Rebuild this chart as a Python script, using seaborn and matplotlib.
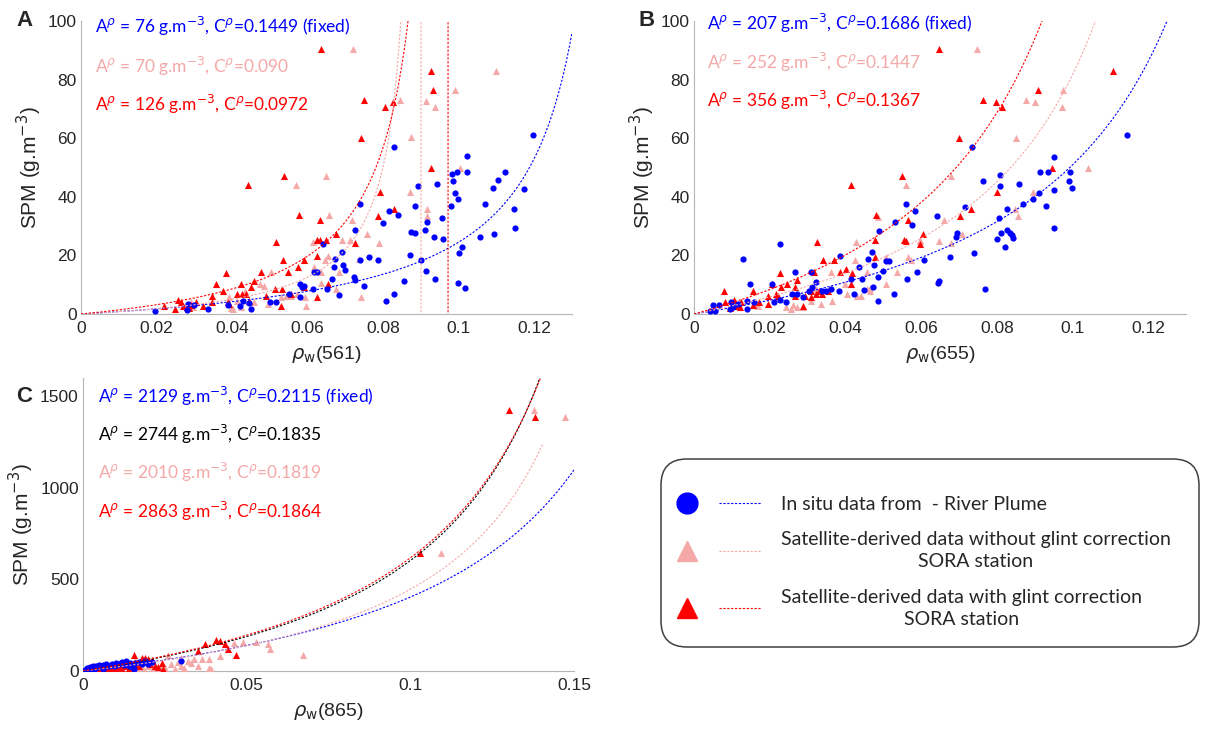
import numpy as np
import pandas as pd
import matplotlib
matplotlib.use("Agg")
import matplotlib.pyplot as plt
import seaborn as sns
from matplotlib.lines import Line2D
from matplotlib.patches import FancyBboxPatch
from matplotlib.legend_handler import HandlerTuple

BLUE  = "#0000ff"
PINK  = "#f5a8a8"
RED   = "#ff0000"
BLACK = "#000000"

# ---------------- panel A : rho_w(561) ----------------
A_BLUE_X = [0.0195, 0.0281, 0.0284, 0.030, 0.0337, 0.039, 0.042, 0.043, 0.0444, 0.045,
            0.050, 0.0516, 0.055, 0.058, 0.058, 0.0585, 0.059, 0.0614, 0.0618, 0.0625,
            0.064, 0.0651, 0.0664, 0.067, 0.0673, 0.0683, 0.069, 0.0694, 0.070, 0.0723,
            0.0725, 0.0726, 0.0738, 0.0738, 0.0749, 0.0763, 0.0786, 0.080, 0.0808, 0.0816,
            0.0828, 0.0828, 0.0838, 0.0855, 0.0871, 0.0874, 0.0884, 0.0884, 0.0892, 0.0899,
            0.0911, 0.0914, 0.0917, 0.0935, 0.0937, 0.0943, 0.0955, 0.0958, 0.098, 0.0981,
            0.0985, 0.099, 0.0995, 0.0997, 0.0999, 0.100, 0.101, 0.1016, 0.1021, 0.1021,
            0.1056, 0.107, 0.1091, 0.1094, 0.1104, 0.1122, 0.1147, 0.115, 0.1173, 0.1196]
A_BLUE_Y = [1.1, 1.4, 3.4, 3.2, 1.7, 3.2, 2.9, 4.6, 3.7, 1.7,
            4.0, 4.0, 6.9, 5.7, 10.3, 9.1, 9.7, 8.6, 14.5, 14.5,
            24.0, 8.5, 12.0, 16.0, 18.9, 6.6, 21.1, 16.8, 15.0, 12.6,
            11.7, 28.6, 37.5, 18.3, 9.4, 19.4, 18.3, 30.9, 4.3, 35.2,
            6.9, 56.9, 33.7, 11.2, 20.0, 28.0, 27.8, 36.8, 43.8, 18.5,
            28.6, 14.6, 31.4, 26.3, 12.0, 44.2, 32.6, 25.6, 37.0, 47.8,
            45.5, 41.4, 48.6, 39.4, 10.6, 20.8, 22.9, 8.8, 53.9, 48.6,
            26.3, 37.7, 42.9, 27.4, 45.7, 48.3, 35.7, 29.5, 42.6, 61.1]

A_RED_X = [0.0219, 0.0249, 0.0258, 0.0266, 0.0271, 0.0281, 0.0287, 0.0292, 0.0304, 0.0322,
           0.0347, 0.0348, 0.0357, 0.0376, 0.0385, 0.039, 0.0393, 0.0413, 0.0423, 0.0425,
           0.0438, 0.0442, 0.0444, 0.0451, 0.0459, 0.0477, 0.0489, 0.0514, 0.0516, 0.053,
           0.0533, 0.0535, 0.0537, 0.0548, 0.0555, 0.0577, 0.0575, 0.059, 0.059, 0.0626,
           0.0624, 0.0626, 0.0632, 0.0634, 0.0636, 0.0649, 0.0654, 0.0674, 0.0725, 0.0742,
           0.075, 0.0791, 0.0786, 0.0804, 0.0826, 0.0828, 0.0928, 0.0932, 0.0928]
A_RED_Y = [2.9, 1.7, 4.9, 4.0, 2.9, 2.5, 2.1, 3.2, 4.0, 2.9,
           6.3, 4.2, 10.1, 8.0, 13.9, 4.0, 3.4, 6.9, 10.1, 6.9,
           6.9, 44.0, 4.6, 9.1, 11.4, 14.3, 6.3, 8.6, 24.6, 2.9,
           8.6, 18.5, 47.2, 14.3, 6.9, 33.7, 16.0, 18.5, 9.1, 5.9,
           19.7, 25.1, 25.1, 32.0, 90.6, 25.4, 10.3, 27.4, 24.3, 60.0,
           73.1, 41.7, 33.4, 70.6, 72.3, 35.7, 83.1, 76.6, 49.7]

A_PINK_X = [0.0719, 0.110, 0.099, 0.0844, 0.0914, 0.0937, 0.0874, 0.0871, 0.0917, 0.0917,
            0.1004, 0.057, 0.0648, 0.0656, 0.0717, 0.0757, 0.079, 0.069, 0.0614, 0.0624,
            0.0712, 0.0737, 0.0646, 0.0616, 0.0655, 0.0682, 0.0636, 0.0504, 0.0474, 0.0484,
            0.0636, 0.0676, 0.0742, 0.0595, 0.0593, 0.0557, 0.0413, 0.0393, 0.0398, 0.0403,
            0.0459, 0.0494, 0.0423, 0.0433, 0.053, 0.0543, 0.0573, 0.0292, 0.0296]
A_PINK_Y = [90.6, 83.1, 76.6, 73.1, 72.6, 70.6, 60.3, 41.7, 35.7, 33.4,
            49.7, 44.0, 47.2, 33.7, 32.0, 27.4, 24.3, 25.4, 24.6, 25.1,
            25.1, 18.9, 18.5, 16.0, 19.7, 14.3, 14.3, 14.3, 10.3, 9.7,
            10.5, 8.6, 5.7, 2.9, 5.7, 6.3, 4.3, 5.7, 2.1, 1.7,
            4.0, 3.4, 2.3, 8.0, 5.9, 6.3, 6.9, 4.0, 2.3]

# ---------------- panel B : rho_w(655) ----------------
B_BLUE_X = [0.0041, 0.0055, 0.005, 0.0065, 0.0094, 0.0099, 0.0104, 0.0117, 0.0129, 0.014,
            0.014, 0.0148, 0.0158, 0.0206, 0.0211, 0.0226, 0.0228, 0.0242, 0.0259, 0.0267,
            0.0272, 0.0289, 0.0303, 0.0308, 0.0313, 0.0323, 0.0338, 0.0348, 0.0363, 0.0384,
            0.0386, 0.0415, 0.0422, 0.0435, 0.0445, 0.045, 0.0461, 0.0471, 0.0476, 0.0473,
            0.0486, 0.0486, 0.0488, 0.0499, 0.0507, 0.0514, 0.0529, 0.053, 0.0563, 0.0561,
            0.0576, 0.0585, 0.0588, 0.0609, 0.0642, 0.0644, 0.0647, 0.0677, 0.0692, 0.0695,
            0.0716, 0.0741, 0.0734, 0.0764, 0.0769, 0.080, 0.0805, 0.0808, 0.0808, 0.081,
            0.0823, 0.0826, 0.0828, 0.0836, 0.084, 0.0843, 0.0858, 0.0869, 0.0896, 0.0912,
            0.0914, 0.093, 0.0935, 0.0951, 0.0951, 0.0952, 0.0991, 0.0994, 0.0998, 0.1144]
B_BLUE_Y = [0.9, 1.1, 3.2, 3.2, 1.7, 4.0, 2.3, 3.4, 18.9, 1.7,
            4.6, 10.3, 4.0, 10.1, 4.0, 4.9, 23.8, 4.0, 6.9, 14.3,
            6.9, 5.7, 8.0, 14.3, 9.1, 10.9, 7.8, 8.0, 8.6, 8.0,
            19.8, 12.0, 6.9, 16.0, 12.0, 8.2, 18.9, 21.1, 16.6, 9.1,
            12.6, 4.3, 28.3, 14.6, 18.1, 18.1, 6.9, 31.4, 12.0, 37.4,
            30.5, 35.1, 14.3, 18.5, 33.4, 10.5, 11.4, 19.4, 26.3, 27.8,
            36.6, 20.8, 56.9, 45.5, 8.6, 25.5, 32.6, 47.4, 43.8, 27.8,
            22.9, 28.6, 35.7, 27.7, 26.9, 26.1, 44.2, 37.7, 39.4, 41.4,
            48.3, 36.9, 48.6, 53.7, 42.3, 29.4, 45.5, 48.3, 42.9, 61.1]

B_RED_X = [0.008, 0.0083, 0.0094, 0.0106, 0.0114, 0.0121, 0.0124, 0.0155, 0.0155, 0.0172,
           0.0196, 0.0196, 0.0206, 0.0216, 0.0221, 0.0228, 0.0231, 0.0245, 0.0267, 0.0267,
           0.0272, 0.0287, 0.0292, 0.0308, 0.0308, 0.0318, 0.0323, 0.0326, 0.0331, 0.0338,
           0.0341, 0.0354, 0.0371, 0.0386, 0.0402, 0.0415, 0.0415, 0.0417, 0.0478, 0.0478,
           0.0481, 0.055, 0.0555, 0.056, 0.0566, 0.0598, 0.0606, 0.0647, 0.070, 0.0703,
           0.0733, 0.0763, 0.0797, 0.080, 0.0814, 0.0909, 0.0947, 0.1108]
B_RED_Y = [7.8, 4.0, 2.1, 4.9, 2.9, 2.5, 4.0, 8.0, 3.2, 4.0,
           3.4, 6.3, 10.3, 6.9, 6.3, 13.9, 9.1, 10.1, 9.1, 6.3,
           11.7, 2.9, 6.3, 8.0, 5.7, 14.3, 6.9, 24.6, 8.0, 6.9,
           18.3, 8.0, 18.5, 14.3, 15.4, 10.1, 44.0, 13.9, 25.1, 19.4,
           33.7, 47.2, 25.4, 24.9, 32.0, 24.0, 27.4, 90.5, 60.0, 33.4,
           35.7, 73.1, 72.3, 41.5, 70.5, 76.3, 49.7, 83.1]

B_PINK_X = [0.0748, 0.0976, 0.0973, 0.0877, 0.0901, 0.085, 0.1042, 0.0896, 0.0848, 0.0856,
            0.0679, 0.0561, 0.0661, 0.0708, 0.0678, 0.0647, 0.0598, 0.0598, 0.0427, 0.0573,
            0.0566, 0.0537, 0.0508, 0.0507, 0.0425, 0.0362, 0.0405, 0.040, 0.0364, 0.0335,
            0.0323, 0.0308, 0.0262, 0.0272, 0.0257, 0.0242, 0.0287, 0.016, 0.017, 0.043,
            0.044, 0.0456, 0.0466, 0.0466, 0.0456, 0.0486]
B_PINK_Y = [90.5, 76.3, 70.5, 73.1, 72.3, 60.0, 49.7, 41.5, 35.7, 33.4,
            47.2, 44.0, 32.0, 27.4, 24.2, 24.9, 25.4, 24.9, 24.6, 18.5,
            19.4, 14.3, 10.1, 19.4, 18.5, 14.3, 6.9, 10.1, 4.6, 3.4,
            8.6, 4.6, 3.2, 2.3, 1.7, 2.3, 2.5, 3.2, 2.9, 6.3,
            6.3, 8.6, 8.9, 8.0, 14.3, 33.1]

# ---------------- panel C : rho_w(865) ----------------
C_BLUE_X = [0.0003, 0.0005, 0.001, 0.0012, 0.0018, 0.002, 0.0025, 0.003, 0.0035, 0.0035,
            0.004, 0.0045, 0.005, 0.0055, 0.006, 0.006, 0.0065, 0.007, 0.0075, 0.008,
            0.0085, 0.009, 0.0095, 0.010, 0.0105, 0.011, 0.0115, 0.012, 0.0125, 0.013,
            0.0135, 0.014, 0.0145, 0.015, 0.0155, 0.016, 0.017, 0.018, 0.019, 0.0195,
            0.020, 0.021, 0.0298]
C_BLUE_Y = [2, 3, 8, 15, 5, 20, 12, 25, 18, 6,
            30, 22, 35, 28, 33, 10, 20, 38, 30, 26,
            35, 40, 28, 45, 33, 38, 42, 48, 35, 55,
            40, 30, 45, 20, 10, 42, 48, 38, 55, 45,
            40, 50, 54]

C_RED_X = [0.001, 0.002, 0.0025, 0.003, 0.004, 0.005, 0.006, 0.0065, 0.007, 0.008,
           0.0085, 0.009, 0.010, 0.0105, 0.011, 0.012, 0.012, 0.013, 0.014, 0.015,
           0.0155, 0.016, 0.017, 0.018, 0.019, 0.020, 0.0205, 0.021, 0.022, 0.023,
           0.024, 0.0245, 0.035, 0.0374, 0.0407, 0.0418, 0.0435, 0.0442, 0.0466, 0.103,
           0.130, 0.138]
C_RED_Y = [2, 5, 15, 8, 3, 10, 6, 22, 12, 4,
           25, 15, 8, 3, 20, 12, 35, 25, 18, 30,
           90, 35, 28, 72, 70, 65, 40, 60, 30, 20,
           45, 11, 108, 150, 168, 163, 150, 121, 85, 646,
           1425, 1387]

C_PINK_X = [0.012, 0.014, 0.015, 0.016, 0.016, 0.017, 0.018, 0.019, 0.020, 0.020,
            0.021, 0.022, 0.023, 0.024, 0.025, 0.026, 0.027, 0.028, 0.029, 0.030,
            0.030, 0.031, 0.032, 0.033, 0.034, 0.035, 0.0365, 0.0386, 0.0386, 0.039,
            0.042, 0.046, 0.049, 0.053, 0.0565, 0.057, 0.0672, 0.1094, 0.1378, 0.1474]
C_PINK_Y = [5, 10, 3, 15, 60, 8, 20, 2, 25, 48,
            12, 35, 5, 30, 18, 86, 40, 10, 50, 30,
            70, 15, 55, 45, 65, 25, 68, 18, 67, 11,
            80, 152, 160, 160, 148, 118, 85, 646, 1425, 1387]

# fitted model parameters  SPM = A * rho / (1 - rho / C)
FIT_A_AP = [76, 70, 126]
FIT_A_CP = [0.1449, 0.090, 0.0972]
FIT_B_AP = [207, 252, 356]
FIT_B_CP = [0.1686, 0.1447, 0.1367]
FIT_C_AP = [2129, 2744, 2010, 2863]
FIT_C_CP = [0.2115, 0.1835, 0.1819, 0.1864]
FIT_C_XMAX = [0.15, 0.15, 0.1405, 0.15]

TXT_A = [r"A$^{\rho}$ = 76 g.m$^{-3}$, C$^{\rho}$=0.1449 (fixed)",
         r"A$^{\rho}$ = 70 g.m$^{-3}$, C$^{\rho}$=0.090",
         r"A$^{\rho}$ = 126 g.m$^{-3}$, C$^{\rho}$=0.0972"]
TXT_B = [r"A$^{\rho}$ = 207 g.m$^{-3}$, C$^{\rho}$=0.1686 (fixed)",
         r"A$^{\rho}$ = 252 g.m$^{-3}$, C$^{\rho}$=0.1447",
         r"A$^{\rho}$ = 356 g.m$^{-3}$, C$^{\rho}$=0.1367"]
TXT_C = [r"A$^{\rho}$ = 2129 g.m$^{-3}$, C$^{\rho}$=0.2115 (fixed)",
         r"A$^{\rho}$ = 2744 g.m$^{-3}$, C$^{\rho}$=0.1835",
         r"A$^{\rho}$ = 2010 g.m$^{-3}$, C$^{\rho}$=0.1819",
         r"A$^{\rho}$ = 2863 g.m$^{-3}$, C$^{\rho}$=0.1864"]

LEG_LABELS = ["In situ data from  - River Plume",
              "Satellite-derived data without glint correction\nSORA station",
              "Satellite-derived data with glint correction\nSORA station"]

sns.set_theme(style="white")
plt.rcParams["font.family"] = ["Liberation Sans", "DejaVu Sans"]
plt.rcParams["mathtext.fontset"] = "dejavusans"

DASH = (0, (2.0, 1.5))
W, H = 1205, 734
fig = plt.figure(figsize=(W / 100, H / 100), dpi=100)


def px_axes(l, t, r, b):
    return fig.add_axes([l / W, 1 - b / H, (r - l) / W, (b - t) / H])


def nechad(rho, a, c):
    with np.errstate(divide="ignore", invalid="ignore"):
        return a * rho / (1 - rho / c)


def style_axes(ax, xlim, ylim, xticks, xticklabels, yticks, xlabel):
    ax.set_xlim(*xlim)
    ax.set_ylim(*ylim)
    ax.set_xticks(xticks, xticklabels)
    ax.set_yticks(yticks)
    for s in ["top", "right"]:
        ax.spines[s].set_visible(False)
    for s in ["left", "bottom"]:
        ax.spines[s].set_color("#b5b5b5")
        ax.spines[s].set_linewidth(0.8)
    ax.tick_params(direction="in", length=4, width=0.6, color="#b5b5b5",
                   labelsize=12.5, labelcolor="#262626")
    ax.tick_params(axis="x", pad=5)
    ax.tick_params(axis="y", pad=3)
    ax.set_xlabel(xlabel, fontsize=14, color="#262626", labelpad=6)
    ax.set_ylabel(r"SPM (g.m$^{-3}$)", fontsize=15, color="#262626", labelpad=3)


def scatter(ax, xs, ys, color, marker, size):
    df = pd.DataFrame({"x": xs, "y": ys})
    sns.scatterplot(data=df, x="x", y="y", ax=ax, color=color, marker=marker,
                    s=size, edgecolor=color, linewidth=0, zorder=3, legend=False)


def curves(ax, aps, cps, colors, xmaxs):
    for a, c, col, xm in zip(aps, cps, colors, xmaxs):
        rho = np.linspace(0, xm, 4001)
        spm = nechad(rho, a, c)
        sns.lineplot(x=rho, y=spm, ax=ax, color=col, lw=0.8, linestyle=DASH,
                     estimator=None, sort=False, zorder=4)


def notes(ax, texts, colors, ys, x0):
    for t, col, y in zip(texts, colors, ys):
        ax.text(x0, y, t, transform=ax.transAxes, color=col, fontsize=12.5,
                family=["Lato", "DejaVu Sans"], va="center", ha="left")


# ---- A
axA = px_axes(81, 21, 572, 314)
scatter(axA, A_PINK_X, A_PINK_Y, PINK, "^", 26)
scatter(axA, A_RED_X, A_RED_Y, RED, "^", 26)
scatter(axA, A_BLUE_X, A_BLUE_Y, BLUE, "o", 20)
curves(axA, FIT_A_AP, FIT_A_CP, [BLUE, PINK, RED], [0.13] * 3)
style_axes(axA, (0, 0.13), (0, 100), [0, 0.02, 0.04, 0.06, 0.08, 0.1, 0.12],
           ["0", "0.02", "0.04", "0.06", "0.08", "0.1", "0.12"],
           [0, 20, 40, 60, 80, 100], r"$\rho_{\rm w}$(561)")
notes(axA, TXT_A, [BLUE, PINK, RED], [0.98, 0.845, 0.715], 0.028)

# ---- B
axB = px_axes(694, 21, 1186, 314)
scatter(axB, B_PINK_X, B_PINK_Y, PINK, "^", 26)
scatter(axB, B_RED_X, B_RED_Y, RED, "^", 26)
scatter(axB, B_BLUE_X, B_BLUE_Y, BLUE, "o", 20)
curves(axB, FIT_B_AP, FIT_B_CP, [BLUE, PINK, RED], [0.13] * 3)
style_axes(axB, (0, 0.13), (0, 100), [0, 0.02, 0.04, 0.06, 0.08, 0.1, 0.12],
           ["0", "0.02", "0.04", "0.06", "0.08", "0.1", "0.12"],
           [0, 20, 40, 60, 80, 100], r"$\rho_{\rm w}$(655)")
notes(axB, TXT_B, [BLUE, PINK, RED], [0.99, 0.86, 0.73], 0.027)

# ---- C
axC = px_axes(83, 378, 574, 671)
scatter(axC, C_PINK_X, C_PINK_Y, PINK, "^", 26)
scatter(axC, C_RED_X, C_RED_Y, RED, "^", 26)
scatter(axC, C_BLUE_X, C_BLUE_Y, BLUE, "o", 20)
curves(axC, FIT_C_AP, FIT_C_CP, [BLUE, BLACK, PINK, RED], FIT_C_XMAX)
style_axes(axC, (0, 0.15), (0, 1600), [0, 0.05, 0.1, 0.15],
           ["0", "0.05", "0.1", "0.15"], [0, 500, 1000, 1500], r"$\rho_{\rm w}$(865)")
notes(axC, TXT_C, [BLUE, BLACK, PINK, RED], [0.938, 0.808, 0.676, 0.546], 0.031)

# panel letters
for lab, (x, y) in zip(["A", "B", "C"], [(16, 21), (638, 21), (16, 396)]):
    fig.text(x / W, 1 - y / H, lab, fontsize=16, fontweight="bold",
             family=["Liberation Sans"], va="center", ha="left")

# ---- legend in its own rounded box
axL = px_axes(660, 458, 1200, 648)
axL.set_xlim(0, 540)
axL.set_ylim(0, 190)
axL.axis("off")
axL.add_patch(FancyBboxPatch((1, 1), 538, 188, boxstyle="round,pad=0,rounding_size=26",
                             lw=1.1, ec="#404040", fc="white", clip_on=False))

handles = [
    (Line2D([], [], marker="o", ls="none", color=BLUE, markersize=15),
     Line2D([], [], ls=DASH, color=BLUE, lw=0.8)),
    (Line2D([], [], marker="^", ls="none", color=PINK, markersize=15),
     Line2D([], [], ls=DASH, color=PINK, lw=0.8)),
    (Line2D([], [], marker="^", ls="none", color=RED, markersize=15),
     Line2D([], [], ls=DASH, color=RED, lw=0.8)),
]
leg = axL.legend(handles=handles, labels=LEG_LABELS,
                 handler_map={tuple: HandlerTuple(ndivide=None, pad=0.5)},
                 loc="upper left", bbox_to_anchor=(6 / 540, (190 - 38) / 190),
                 frameon=False, handlelength=4.9, handletextpad=1.0,
                 labelspacing=0.95, borderpad=0, borderaxespad=0,
                 prop={"family": ["Lato", "DejaVu Sans"], "size": 14})
for t in leg.get_texts():
    t.set_multialignment("center")
    t.set_linespacing(1.35)

fig.savefig("out.png", dpi=100)
